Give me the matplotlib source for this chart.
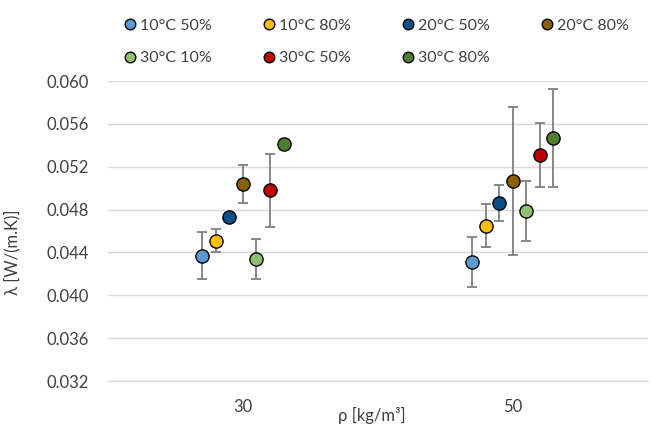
import matplotlib
matplotlib.use("Agg")
import matplotlib.pyplot as plt
import numpy as np

plt.rcParams['font.family'] = ['Lato', 'DejaVu Sans']

categories = ["30", "50"]
series = ["10°C 50%", "10°C 80%", "20°C 50%", "20°C 80%", "30°C 10%", "30°C 50%", "30°C 80%"]
colors = ["#5B9BD5", "#FFC000", "#0B4F8A", "#8A6100", "#8FC06C", "#C00000", "#4F7F2E"]
values = [
    [0.0437, 0.0431],
    [0.0451, 0.0465],
    [0.0473, 0.0486],
    [0.0504, 0.0507],
    [0.0434, 0.0479],
    [0.0498, 0.0531],
    [0.0541, 0.0547],
]
errors = [
    [0.0022, 0.0023],
    [0.0011, 0.0020],
    [0.0004, 0.0017],
    [0.0018, 0.0069],
    [0.0019, 0.0028],
    [0.0034, 0.0030],
    [0.0004, 0.0046],
]
yticks = [0.032, 0.036, 0.040, 0.044, 0.048, 0.052, 0.056, 0.060]

fig = plt.figure(figsize=(6.51, 4.26), dpi=100)
ax = fig.add_axes([108/651, 1-381/426, 540/651, 300/426])

xc = np.arange(len(categories))
n = len(series)
handles = []
for i in range(n):
    xs = xc + (i - (n - 1) / 2) * 0.05
    ax.errorbar(xs, values[i], yerr=errors[i], fmt='none', ecolor='#7F7F7F',
                elinewidth=1.3, capsize=3.5, capthick=1.3, zorder=2)
    h, = ax.plot(xs, values[i], linestyle='none', marker='o', markersize=9.5,
                 markerfacecolor=colors[i], markeredgecolor='black',
                 markeredgewidth=1.0, zorder=3, label=series[i])
    handles.append(h)

ax.set_xlim(-0.5, 1.5)
ax.set_ylim(0.032, 0.060)
ax.set_yticks(yticks)
ax.set_yticklabels([f"{t:.3f}" for t in yticks])
ax.set_xticks(xc)
ax.set_xticklabels(categories)
ax.tick_params(axis='both', length=0, labelsize=12, colors='#404040')
ax.tick_params(axis='y', pad=14)
ax.tick_params(axis='x', pad=13)
ax.grid(axis='y', color='#D9D9D9', linewidth=1.0)
ax.set_axisbelow(True)
for s in ['top', 'right', 'left']:
    ax.spines[s].set_visible(False)
ax.spines['bottom'].set_color('#D9D9D9')
ax.spines['bottom'].set_linewidth(1.0)

ax.set_ylabel("λ [W/(m.K)]", fontsize=12, color='#404040')
ax.yaxis.set_label_coords(-0.163, 0.43)
fig.text(372/651, 1-415/426, "ρ [kg/m³]", ha='center', va='center', fontsize=12, color='#404040')

order = [0, 4, 1, 5, 2, 6, 3]
leg = fig.legend([handles[k] for k in order], [series[k] for k in order],
                 ncol=4, loc='upper left', bbox_to_anchor=(108/651, 1-4/426),
                 frameon=False, fontsize=11.5, handletextpad=0.1,
                 columnspacing=3.1, handlelength=1.0, labelspacing=1.15,
                 markerscale=0.8)
for t in leg.get_texts():
    t.set_color('#404040')

fig.savefig("out.png", dpi=100)
